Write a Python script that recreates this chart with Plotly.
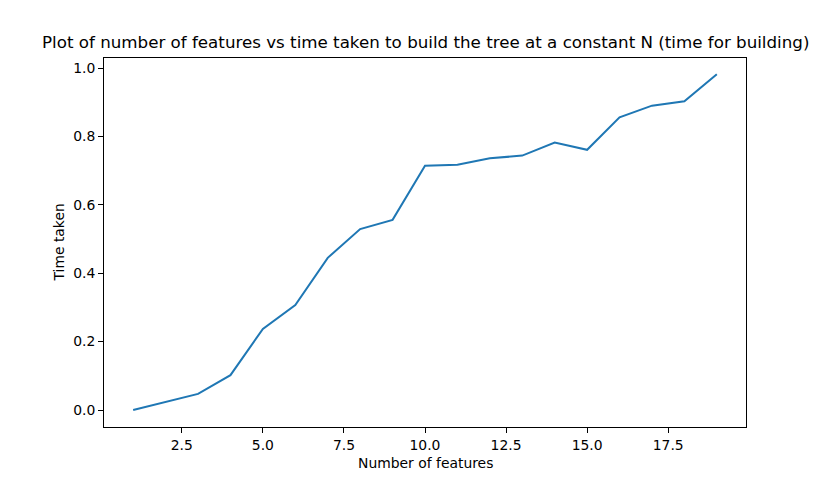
import plotly.graph_objects as go

features = list(range(1, 20))
time_taken = [0.000, 0.023, 0.047, 0.102, 0.237, 0.307, 0.445, 0.529, 0.556, 0.714,
              0.717, 0.736, 0.744, 0.782, 0.761, 0.856, 0.890, 0.903, 0.982]

x_ticks = [2.5, 5.0, 7.5, 10.0, 12.5, 15.0, 17.5]
x_tick_labels = ["2.5", "5.0", "7.5", "10.0", "12.5", "15.0", "17.5"]
y_ticks = [0.0, 0.2, 0.4, 0.6, 0.8, 1.0]
y_tick_labels = ["0.0", "0.2", "0.4", "0.6", "0.8", "1.0"]

title = "Plot of number of features vs time taken to build the tree at a constant N (time for building)"
font = "DejaVu Sans, sans-serif"

fig = go.Figure()
fig.add_trace(go.Scatter(x=features, y=time_taken, mode="lines",
                         line=dict(color="#1f77b4", width=2)))

axis_common = dict(showgrid=False, zeroline=False, showline=True, linecolor="black",
                   linewidth=1, mirror=True, ticks="outside", ticklen=5, tickwidth=1,
                   tickcolor="black", tickfont=dict(family=font, size=13.9, color="black"))

fig.update_layout(
    width=828, height=480,
    margin=dict(l=96, r=90, t=50, b=61),
    paper_bgcolor="white", plot_bgcolor="white",
    showlegend=False,
    font=dict(family=font, color="black"),
    xaxis=dict(range=[0.1, 19.9], tickvals=x_ticks, ticktext=x_tick_labels, **axis_common),
    yaxis=dict(range=[-0.0497, 1.0294], tickvals=y_ticks, ticktext=y_tick_labels, **axis_common),
    annotations=[
        dict(text=title, x=0.5, y=1, xref="paper", yref="paper", xanchor="center",
             yanchor="bottom", yshift=4, showarrow=False, font=dict(family=font, size=16.7)),
        dict(text="Number of features", x=0.5, y=0, xref="paper", yref="paper",
             xanchor="center", yanchor="top", yshift=-26, showarrow=False,
             font=dict(family=font, size=13.9)),
        dict(text="Time taken", x=0, y=0.5, xref="paper", yref="paper", textangle=-90,
             xanchor="right", yanchor="middle", xshift=-36, showarrow=False,
             font=dict(family=font, size=13.9)),
    ],
)

fig.write_html("out.html")
